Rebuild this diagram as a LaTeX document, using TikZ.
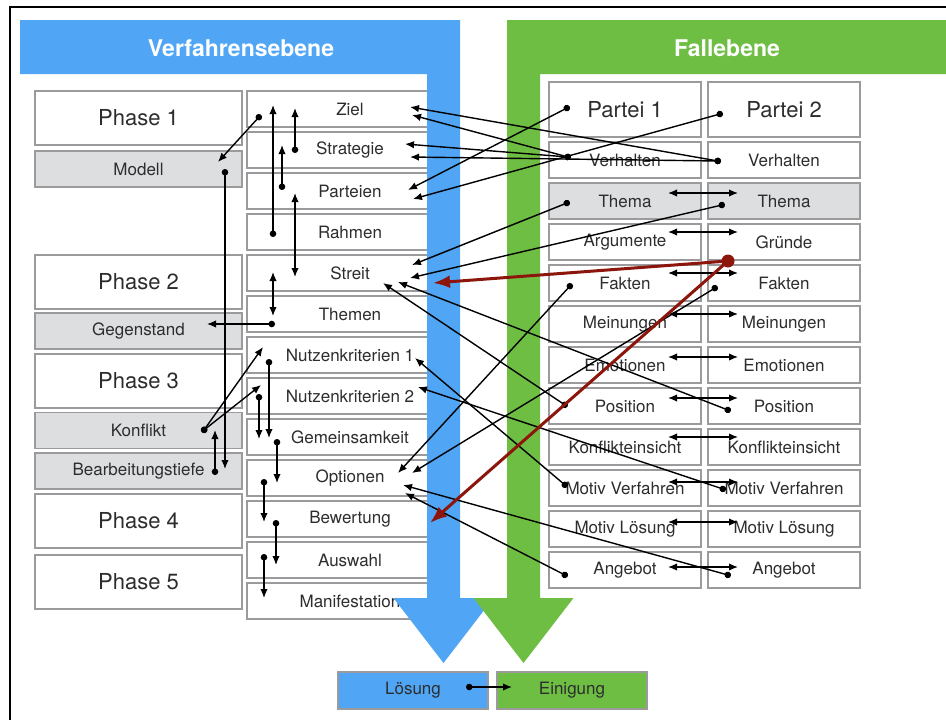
\documentclass[tikz,border=0pt]{standalone}
\usepackage{fontspec}
\setmainfont{TeX Gyre Heros}
\usetikzlibrary{arrows.meta}
\definecolor{blueC}{RGB}{80,166,245}
\definecolor{greenC}{RGB}{110,190,68}
\definecolor{grayF}{RGB}{221,222,224}
\definecolor{bordC}{RGB}{155,155,158}
\definecolor{txtC}{RGB}{45,45,45}
\definecolor{redC}{RGB}{140,22,12}
\begin{document}
\begin{tikzpicture}[x=1pt,y=-1pt,
  box/.style={draw=bordC, line width=1.7pt, fill=white, text=txtC, inner sep=0pt, font=\fontsize{17}{20}\selectfont},
  phase/.style={box, minimum width=207pt, minimum height=54pt, font=\fontsize{22}{26}\selectfont},
  sub/.style={box, fill=grayF, minimum width=207pt, minimum height=36pt},
  mid/.style={box, minimum width=206pt, minimum height=36pt},
  rc/.style={box, minimum width=152pt, minimum height=36pt},
  rcg/.style={rc, fill=grayF},
  party/.style={box, minimum width=152pt, minimum height=55pt, font=\fontsize{22}{26}\selectfont},
  conn/.style={line width=1.4pt, shorten <=-3pt, arrows={Circle[length=6.5pt]-Latex[length=9pt,width=7.5pt]}},
  dbl/.style={line width=1.4pt, arrows={Latex[length=9pt,width=7.5pt]-Latex[length=9pt,width=7.5pt]}},
  redl/.style={line width=3pt, draw=redC, arrows={-Latex[length=17pt,width=13pt]}},
  hdr/.style={font=\bfseries\fontsize{23}{27}\selectfont, text=white}
]
\useasboundingbox (0,0) rectangle (946,720);
\fill[white] (0,0) rectangle (946,720);
\draw[line width=2pt] (10,730) -- (10,7) -- (950,7);

% left column
\node[phase] (ph1) at (138.5,118) {Phase 1};
\node[sub] (modell) at (138.5,169) {Modell};
\node[phase] (ph2) at (138.5,282) {Phase 2};
\node[sub] (gegen) at (138.5,331) {Gegenstand};
\node[phase] (ph3) at (138.5,381) {Phase 3};
\node[sub] (konf) at (138.5,430.5) {Konflikt};
\node[sub] (bearb) at (138.5,471) {Bearbeitungstiefe};
\node[phase] (ph4) at (138.5,521) {Phase 4};
\node[phase] (ph5) at (138.5,582) {Phase 5};

% middle column
\node[mid] (ziel) at (350,109) {Ziel};
\node[mid] (strat) at (350,150) {Strategie};
\node[mid] (part) at (350,191) {Parteien};
\node[mid] (rahm) at (350,232) {Rahmen};
\node[mid] (streit) at (350,273) {Streit};
\node[mid] (themen) at (350,314) {Themen};
\node[mid] (nk1) at (350,355) {Nutzenkriterien 1};
\node[mid] (nk2) at (350,396) {Nutzenkriterien 2};
\node[mid] (gem) at (350,437) {Gemeinsamkeit};
\node[mid] (opt) at (350,478) {Optionen};
\node[mid] (bew) at (350,519) {Bewertung};
\node[mid] (ausw) at (350,560) {Auswahl};
\node[mid] (mani) at (350,601) {Manifestation};

% right columns
\node[party] (pa1) at (625,109.5) {Partei 1};
\node[party] (pa2) at (784,109.5) {Partei 2};
\node[rc] (v1) at (625,160) {Verhalten};
\node[rc] (v2) at (784,160) {Verhalten};
\node[rcg] (th1) at (625,201) {Thema};
\node[rcg] (th2) at (784,201) {Thema};
\node[rc] (arg) at (625,242) {Argumente};
\node[rc] (gru) at (784,242) {Gründe};
\node[rc] (fa1) at (625,283) {Fakten};
\node[rc] (fa2) at (784,283) {Fakten};
\node[rc] (me1) at (625,324) {Meinungen};
\node[rc] (me2) at (784,324) {Meinungen};
\node[rc] (em1) at (625,365) {Emotionen};
\node[rc] (em2) at (784,365) {Emotionen};
\node[rc] (po1) at (625,406) {Position};
\node[rc] (po2) at (784,406) {Position};
\node[rc] (ko1) at (625,447) {Konflikteinsicht};
\node[rc] (ko2) at (784,447) {Konflikteinsicht};
\node[rc] (mv1) at (625,488) {Motiv Verfahren};
\node[rc] (mv2) at (784,488) {Motiv Verfahren};
\node[rc] (ml1) at (625,529) {Motiv Lösung};
\node[rc] (ml2) at (784,529) {Motiv Lösung};
\node[rc] (an1) at (625,570) {Angebot};
\node[rc] (an2) at (784,570) {Angebot};

% big arrows
\fill[blueC] (20,20) -- (460,20) -- (460,598) -- (493.5,598) -- (443.5,663) -- (393.5,598) -- (427,598) -- (427,74) -- (20,74) -- cycle;
\fill[greenC] (507,20) -- (946,20) -- (946,74) -- (540,74) -- (540,598) -- (573.5,598) -- (523.5,663) -- (473.5,598) -- (507,598) -- cycle;
\node[hdr] (hv) at (241,48) {Verfahrensebene};
\node[hdr] (hf) at (727,48) {Fallebene};

% bottom boxes
\node[box, fill=blueC, minimum width=150pt, minimum height=37pt] (loes) at (413,690.5) {Lösung};
\node[box, fill=greenC, minimum width=150pt, minimum height=37pt] (einig) at (572,690.5) {Einigung};
\coordinate (lA) at (469,687);
\coordinate (eA) at (512,687);
\draw[conn] (lA) -- (eA);

% left / middle connectors
\coordinate (c1a) at (259,117); \coordinate (c1b) at (218,162);
\draw[conn] (c1a) -- (c1b);
\coordinate (c2a) at (273,234); \coordinate (c2b) at (273,105);
\draw[conn] (c2a) -- (c2b);
\coordinate (c3a) at (295,150); \coordinate (c3b) at (295,108);
\draw[conn] (c3a) -- (c3b);
\coordinate (c4a) at (282,187); \coordinate (c4b) at (282,145);
\draw[conn] (c4a) -- (c4b);
\coordinate (d1a) at (295,193); \coordinate (d1b) at (295,277);
\draw[dbl] (d1a) -- (d1b);
\coordinate (d2a) at (273,272); \coordinate (d2b) at (273,316);
\draw[dbl] (d2a) -- (d2b);
\coordinate (c5a) at (272,324); \coordinate (c5b) at (207,324);
\draw[conn] (c5a) -- (c5b);
\coordinate (c6a) at (225,172); \coordinate (c6b) at (225,469);
\draw[conn] (c6a) -- (c6b);
\coordinate (c7a) at (215,472); \coordinate (c7b) at (215,430);
\draw[conn] (c7a) -- (c7b);
\coordinate (c8a) at (204,430); \coordinate (c8b) at (263,347); \coordinate (c9b) at (261,385);
\draw[conn] (c8a) -- (c8b);
\draw[conn] (c8a) -- (c9b);
\coordinate (c10a) at (269,362); \coordinate (c10b) at (269,438);
\draw[conn] (c10a) -- (c10b);
\coordinate (c11a) at (259,397); \coordinate (c11b) at (259,439);
\draw[conn] (c11a) -- (c11b);
\coordinate (c12a) at (277,442); \coordinate (c12b) at (277,483);
\draw[conn] (c12a) -- (c12b);
\coordinate (c13a) at (264,482); \coordinate (c13b) at (264,522);
\draw[conn] (c13a) -- (c13b);
\coordinate (c14a) at (276,523); \coordinate (c14b) at (276,565);
\draw[conn] (c14a) -- (c14b);
\coordinate (c15a) at (264,557); \coordinate (c15b) at (264,598);
\draw[conn] (c15a) -- (c15b);

% right -> middle connectors
\coordinate (pa1d) at (567,108); \coordinate (pa2d) at (720,114);
\coordinate (v1d) at (568,157); \coordinate (v2d) at (718,161);
\coordinate (th1d) at (567,203); \coordinate (th2d) at (722,205);
\coordinate (fa1d) at (570,286); \coordinate (fa2d) at (715,288);
\coordinate (po1d) at (565,405); \coordinate (po2d) at (728,410);
\coordinate (mv1d) at (565,485); \coordinate (mv2d) at (723,489);
\coordinate (an1d) at (565,575); \coordinate (an2d) at (728,575);
\coordinate (partA) at (408,190); \coordinate (partB) at (413,199);
\coordinate (zielA) at (410,107); \coordinate (zielB) at (412,115);
\coordinate (stratA) at (405,144); \coordinate (stratB) at (410,157);
\coordinate (streitA) at (412,265); \coordinate (streitB) at (410,278);
\coordinate (streitC) at (398,282); \coordinate (streitD) at (383,283);
\coordinate (optA) at (398,473); \coordinate (optB) at (412,473);
\coordinate (optC) at (403,485); \coordinate (optD) at (405,493);
\coordinate (nk1A) at (415,358); \coordinate (nk2A) at (418,387);
\draw[conn] (pa1d) -- (partA);
\draw[conn] (pa2d) -- (partB);
\draw[conn] (v2d) -- (zielA);
\draw[conn] (v1d) -- (zielB);
\draw[conn] (v1d) -- (stratA);
\draw[conn] (v2d) -- (stratB);
\draw[conn] (th1d) -- (streitA);
\draw[conn] (th2d) -- (streitB);
\draw[conn] (po2d) -- (streitC);
\draw[conn] (po1d) -- (streitD);
\draw[conn] (fa1d) -- (optA);
\draw[conn] (fa2d) -- (optB);
\draw[conn] (an2d) -- (optC);
\draw[conn] (an1d) -- (optD);
\draw[conn] (mv1d) -- (nk1A);
\draw[conn] (mv2d) -- (nk2A);

% double arrows between the two parties
\foreach \a/\b/\y in {th1/th2/193, arg/gru/232, fa1/fa2/273, me1/me2/314, em1/em2/357, po1/po2/398, ko1/ko2/437, mv1/mv2/482, ml1/ml2/522, an1/an2/567} {
  \coordinate (\a h) at (668,\y);
  \coordinate (\b h) at (738,\y);
  \draw[dbl] (\a h) -- (\b h);
}

% red connectors
\coordinate (rdot) at (728,261);
\coordinate (redS) at (433,283);
\coordinate (redB) at (430,523);
\draw[redl] (rdot) -- (redS);
\draw[redl] (rdot) -- (redB);
\fill[redC] (rdot) circle (6.5);
\end{tikzpicture}
\end{document}
